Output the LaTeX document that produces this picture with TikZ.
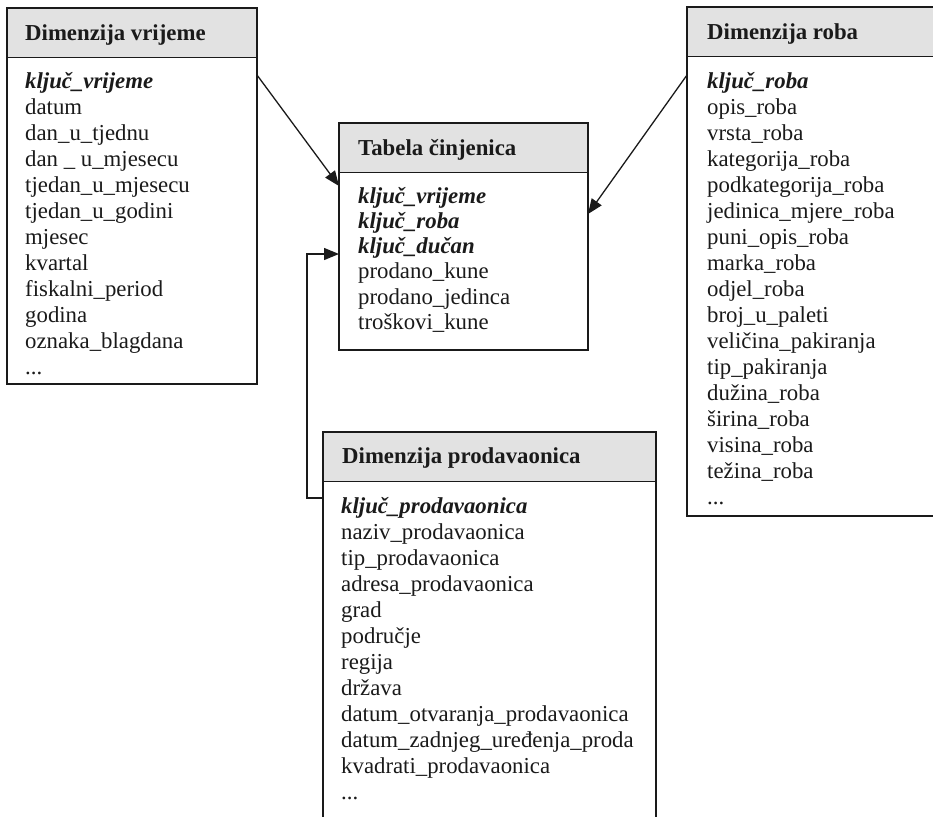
\documentclass[tikz,border=0pt]{standalone}
\usepackage{fontspec}
\setmainfont{Liberation Serif}
\usetikzlibrary{arrows.meta}
\definecolor{hdrgray}{HTML}{E2E2E2}
\definecolor{linecol}{HTML}{1A1A1A}
\tikzset{
 tbl/.style={draw=linecol, line width=1.6pt, inner sep=0pt, outer sep=0pt, anchor=north west,
   path picture={\fill[hdrgray] (path picture bounding box.north west) rectangle ([yshift=-49.5pt]path picture bounding box.north east);
   \draw[line width=1.6pt, linecol] ([yshift=-49.5pt]path picture bounding box.north west) -- ([yshift=-49.5pt]path picture bounding box.north east);}},
 hdr/.style={anchor=base west, inner sep=0pt, text=linecol, font=\fontsize{22.8}{26}\selectfont\bfseries},
 fld/.style={anchor=base west, inner sep=0pt, text=linecol, font=\fontsize{22.8}{26}\selectfont},
 key/.style={anchor=base west, inner sep=0pt, text=linecol, font=\fontsize{22.8}{26}\selectfont\bfseries\itshape},
 conn/.style={draw=linecol, line width=1.3pt, -{Triangle[length=15pt,width=12pt]}},
}
\begin{document}
\begin{tikzpicture}[x=1pt,y=-1pt]
\useasboundingbox (0,0) rectangle (933,816);
\clip (0,0) rectangle (933,816);
% tables
\node[tbl, minimum width=250pt, minimum height=376pt] (vr) at (7,8) {};
\node[tbl, minimum width=249pt, minimum height=227pt] (tc) at (339,123) {};
\node[tbl, minimum width=262pt, minimum height=509pt] (rb) at (687,7) {};
\node[tbl, minimum width=333pt, minimum height=400pt] (pr) at (323,432) {};
% Dimenzija vrijeme
\node[hdr] (vrh) at (25,40.5) {Dimenzija vrijeme};
\node[key] (vr0) at (25,88) {ključ\_vrijeme};
\foreach[count=\i] \t in {datum, dan\_u\_tjednu, dan \_ u\_mjesecu, tjedan\_u\_mjesecu, tjedan\_u\_godini, mjesec, kvartal, fiskalni\_period, godina, oznaka\_blagdana}
  \node[fld] (vr\i) at (25,{88+26*\i}) {\t};
\node[fld] (vrdots) at (25,374) {...};
% Tabela cinjenica
\node[hdr] (tch) at (358,155) {Tabela činjenica};
\node[key] (tc0) at (358,203) {ključ\_vrijeme};
\node[key] (tc1) at (358,228.3) {ključ\_roba};
\node[key] (tc2) at (358,253.6) {ključ\_dučan};
\node[fld] (tc3) at (358,278.9) {prodano\_kune};
\node[fld] (tc4) at (358,304.2) {prodano\_jedinca};
\node[fld] (tc5) at (358,329.5) {troškovi\_kune};
% Dimenzija roba
\node[hdr] (rbh) at (707,40) {Dimenzija roba};
\node[key] (rb0) at (707,88) {ključ\_roba};
\foreach[count=\i] \t in {opis\_roba, vrsta\_roba, kategorija\_roba, podkategorija\_roba, jedinica\_mjere\_roba, puni\_opis\_roba, marka\_roba, odjel\_roba, broj\_u\_paleti, veličina\_pakiranja, tip\_pakiranja, dužina\_roba, širina\_roba, visina\_roba, težina\_roba}
  \node[fld] (rb\i) at (707,{88+26*\i}) {\t};
\node[fld] (rbdots) at (707,504) {...};
% Dimenzija prodavaonica
\node[hdr] (prh) at (342,463) {Dimenzija prodavaonica};
\node[key] (pr0) at (341,513) {ključ\_prodavaonica};
\foreach[count=\i] \t in {naziv\_prodavaonica, tip\_prodavaonica, adresa\_prodavaonica, grad, područje, regija, država, datum\_otvaranja\_prodavaonica, datum\_zadnjeg\_uređenja\_proda, kvadrati\_prodavaonica}
  \node[fld] (pr\i) at (341,{513+26*\i}) {\t};
\node[fld] (prdots) at (341,799) {...};
% connectors
\draw[conn] (vr.east |- 0,75) -- (tc.west |- 0,186);
\draw[conn] (rb.west |- 0,75) -- (tc.east |- 0,214);
\draw[conn] (pr.west |- 0,498) -- ++(-16,0) |- (tc.west |- 0,254);
\end{tikzpicture}
\end{document}
